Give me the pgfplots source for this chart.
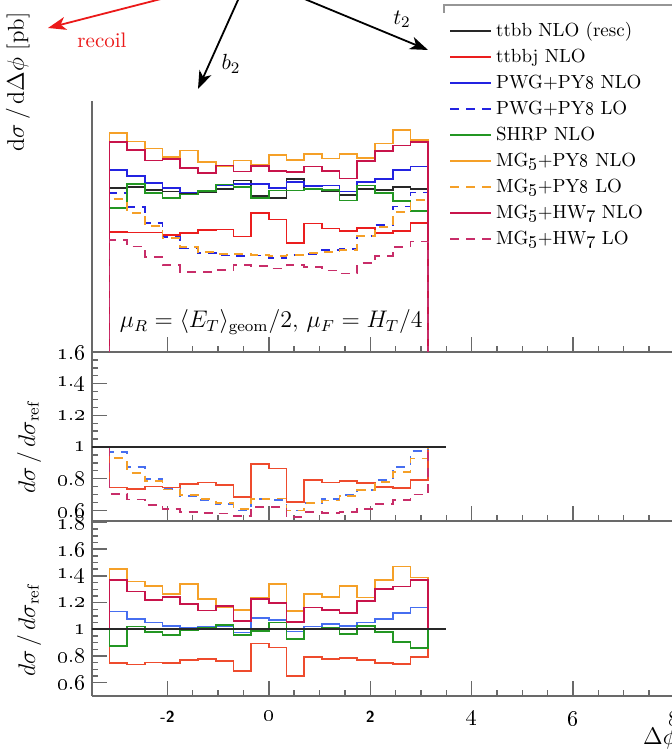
\documentclass[border=0pt]{standalone}
\usepackage{pgfplots}
\pgfplotsset{compat=1.18}
\usepackage{pgfplotstable}
\usetikzlibrary{arrows.meta}

\definecolor{ttbbc}{RGB}{40,40,40}
\definecolor{ttbbjc}{RGB}{235,30,30}
\definecolor{ttbbjr}{RGB}{238,75,45}
\definecolor{pwgc}{RGB}{35,35,225}
\definecolor{pwgr}{RGB}{70,110,240}
\definecolor{shrpc}{RGB}{35,150,35}
\definecolor{mgpyc}{RGB}{245,160,40}
\definecolor{mghwc}{RGB}{200,20,75}
\definecolor{mghwlc}{RGB}{200,45,105}
\definecolor{axisgray}{RGB}{105,105,105}
\definecolor{arrred}{RGB}{235,25,25}

\newcommand\osf[1]{\oldstylenums{#1}}

% top panel: d sigma / d Delta phi [pb]
\pgfplotstableread{
x ref red pwgn pwgl shrp mgpn mgpl mghn mghl
-3.14159 0.1 0.1 0.1 0.1 0.1 0.1 0.1 0.1 0.1
-3.14159 4.56 3.397 5.162 4.423 3.999 6.621 4.241 6.243 3.215
-2.79253 4.61 3.388 4.965 4.029 4.702 6.256 3.854 5.910 3.079
-2.44346 4.51 3.383 4.736 3.608 4.429 5.971 3.536 5.502 2.864
-2.09440 4.46 3.323 4.580 3.278 4.268 5.637 3.265 5.548 2.721
-1.74533 4.40 3.379 4.435 3.036 4.378 5.883 3.067 5.223 2.596
-1.39626 4.43 3.438 4.496 2.946 4.483 5.436 2.968 5.050 2.592
-1.04720 4.53 3.452 4.652 2.899 4.675 5.296 2.922 5.318 2.627
-0.69813 4.81 3.295 4.690 2.886 4.603 5.507 2.934 5.108 2.718
-0.34907 4.33 3.867 4.685 2.901 4.274 5.335 2.910 5.304 2.698
0.00000 4.28 3.698 4.580 2.846 4.494 5.722 2.889 5.115 2.654
0.34907 4.85 3.157 4.768 2.910 4.496 5.514 2.910 5.102 2.716
0.69813 4.55 3.595 4.641 2.935 4.550 5.742 2.948 5.287 2.685
1.04720 4.48 3.481 4.646 3.002 4.511 5.573 2.966 5.130 2.621
1.39626 4.35 3.415 4.467 3.023 4.198 5.759 3.002 4.872 2.567
1.74533 4.53 3.493 4.757 3.307 4.652 5.604 3.307 5.490 2.750
2.09440 4.51 3.369 4.857 3.563 4.429 6.174 3.509 5.863 2.886
2.44346 4.61 3.421 5.163 4.034 4.181 6.772 3.882 6.085 3.066
2.79253 4.55 3.613 5.287 4.436 3.922 6.311 4.222 6.229 3.185
3.14159 4.55 3.613 5.287 4.436 3.922 6.311 4.222 6.229 3.185
3.14159 0.1 0.1 0.1 0.1 0.1 0.1 0.1 0.1 0.1
}\toptab

% middle panel: ratios of LO curves
\pgfplotstableread{
x red pwgl mgpl mghl
-3.14159 1 1 1 1
-3.14159 0.745 0.970 0.930 0.705
-2.79253 0.735 0.874 0.836 0.668
-2.44346 0.750 0.800 0.784 0.635
-2.09440 0.745 0.735 0.732 0.610
-1.74533 0.768 0.690 0.697 0.590
-1.39626 0.776 0.665 0.670 0.585
-1.04720 0.762 0.640 0.645 0.580
-0.69813 0.685 0.600 0.610 0.565
-0.34907 0.893 0.670 0.672 0.623
0.00000 0.864 0.665 0.675 0.620
0.34907 0.651 0.600 0.600 0.560
0.69813 0.790 0.645 0.648 0.590
1.04720 0.777 0.670 0.662 0.585
1.39626 0.785 0.695 0.690 0.590
1.74533 0.771 0.730 0.730 0.607
2.09440 0.747 0.790 0.778 0.640
2.44346 0.742 0.875 0.842 0.665
2.79253 0.794 0.975 0.928 0.700
3.14159 0.794 0.975 0.928 0.700
3.14159 1 1 1 1
}\midtab

% bottom panel: ratios of NLO curves
\pgfplotstableread{
x red pwgn shrp mgpn mghn
-3.14159 1 1 1 1 1
-3.14159 0.745 1.132 0.877 1.452 1.369
-2.79253 0.735 1.077 1.020 1.357 1.282
-2.44346 0.750 1.050 0.982 1.324 1.220
-2.09440 0.745 1.027 0.957 1.264 1.244
-1.74533 0.768 1.008 0.995 1.337 1.187
-1.39626 0.776 1.015 1.012 1.227 1.140
-1.04720 0.762 1.027 1.032 1.169 1.174
-0.69813 0.685 0.975 0.957 1.145 1.062
-0.34907 0.893 1.082 0.987 1.232 1.225
0.00000 0.864 1.070 1.050 1.337 1.195
0.34907 0.651 0.983 0.927 1.137 1.052
0.69813 0.790 1.020 1.000 1.262 1.162
1.04720 0.777 1.037 1.007 1.244 1.145
1.39626 0.785 1.027 0.965 1.324 1.120
1.74533 0.771 1.050 1.027 1.237 1.212
2.09440 0.747 1.077 0.982 1.369 1.300
2.44346 0.742 1.120 0.907 1.469 1.320
2.79253 0.794 1.162 0.862 1.387 1.369
3.14159 0.794 1.162 0.862 1.387 1.369
3.14159 1 1 1 1 1
}\bottab

\pgfplotsset{
  panel/.style={
    scale only axis, width=316.55pt,
    xmin=-3.487, xmax=9,
    axis x line*=bottom, axis y line*=left,
    axis line style={-, draw=axisgray, line width=0.7pt},
    every outer x axis line/.append style={-},
    every outer y axis line/.append style={-},
    tick style={draw=axisgray, line width=0.7pt},
    tick align=inside,
    major tick length=7.5pt, minor tick length=3pt,
    xtick={-2,0,2,4,6,8}, minor x tick num=3,
    yticklabel style={font=\fontsize{11}{13}\selectfont},
    every axis y label/.style={rotate=90, anchor=center, font=\fontsize{12}{14}\selectfont},
  },
  hist/.style={const plot mark left, line width=0.85pt},
  lo/.style={dash pattern=on 4.5pt off 3.5pt},
}

\begin{document}
\begin{tikzpicture}
\useasboundingbox (0,0) rectangle (335.5pt,374.5pt);

% ---------- top panel ----------
\begin{axis}[panel,
  at={(46pt,198.5pt)}, anchor=south west, height=125.5pt,
  ymode=log, ymin=1.512, ymax=8.22,
  ytick=\empty, minor ytick={2,3,4,5,6,7,8}, yminorticks=true,
  xticklabels={},
  ylabel={$\mathrm{d}\sigma\,/\,\mathrm{d}\Delta\phi$ [pb]},
  every axis y label/.style={rotate=90, anchor=center, font=\fontsize{11.5}{14}\selectfont,
     at={(axis description cs:-0.117,1.076)}},
  legend image code/.code={\draw[#1] (0pt,0pt) -- (20.5pt,0pt);},
  legend cell align=left,
  legend style={at={(axis description cs:0.564,1.331)}, anchor=north west,
     draw=none, fill=none, inner sep=0pt, row sep=0pt,
     font=\fontsize{9.5}{11}\selectfont,
     nodes={inner ysep=1.5pt, text height=7.5pt, text depth=2.5pt}},
]
\addplot[hist, ttbbc] table[x=x,y=ref]{\toptab};
\addplot[hist, ttbbjc] table[x=x,y=red]{\toptab};
\addplot[hist, pwgc] table[x=x,y=pwgn]{\toptab};
\addplot[hist, lo, pwgc] table[x=x,y=pwgl]{\toptab};
\addplot[hist, shrpc] table[x=x,y=shrp]{\toptab};
\addplot[hist, mgpyc] table[x=x,y=mgpn]{\toptab};
\addplot[hist, lo, mgpyc] table[x=x,y=mgpl]{\toptab};
\addplot[hist, mghwc] table[x=x,y=mghn]{\toptab};
\addplot[hist, lo, mghwlc] table[x=x,y=mghl]{\toptab};
\legend{ttbb NLO (resc), ttbbj NLO, PWG+PY\osf{8} NLO, PWG+PY\osf{8} LO, SHRP NLO,
  MG\osf{5}+PY\osf{8} NLO, MG\osf{5}+PY\osf{8} LO, MG\osf{5}+HW\osf{7} NLO, MG\osf{5}+HW\osf{7} LO}
\node[font=\fontsize{11.5}{14}\selectfont] at (axis cs:0.05,1.853)
  {$\mu_R = \langle E_T\rangle_{\mathrm{geom}}/2,\, \mu_F = H_T/4$};
\end{axis}

% ---------- middle panel ----------
\begin{axis}[panel,
  at={(46pt,114pt)}, anchor=south west, height=84.5pt,
  ymin=0.533, ymax=1.6,
  ytick={0.6,0.8,1,1.2,1.4,1.6}, minor y tick num=3,
  yticklabels={\osf{0}.\osf{6}, \osf{0}.\osf{8}, \osf{1}, \osf{1}.\osf{2}, \osf{1}.\osf{4}, \osf{1}.\osf{6}},
  xticklabels={},
  ylabel={$d\sigma\,/\,d\sigma_{\mathrm{ref}}$},
  every axis y label/.append style={at={(axis description cs:-0.0995,0.438)}},
]
\addplot[hist, ttbbjr] table[x=x,y=red]{\midtab};
\addplot[hist, lo, pwgr] table[x=x,y=pwgl]{\midtab};
\addplot[hist, lo, mgpyc] table[x=x,y=mgpl]{\midtab};
\addplot[hist, lo, mghwlc] table[x=x,y=mghl]{\midtab};
\addplot[ttbbc, line width=1pt] coordinates {(-3.6,1) (3.495,1)};
\end{axis}

% ---------- bottom panel ----------
\begin{axis}[panel,
  at={(46pt,26.5pt)}, anchor=south west, height=87.5pt,
  ymin=0.5, ymax=1.811,
  ytick={0.6,0.8,1,1.2,1.4,1.6,1.8}, minor y tick num=3,
  yticklabels={\osf{0}.\osf{6}, \osf{0}.\osf{8}, \osf{1}, \osf{1}.\osf{2}, \osf{1}.\osf{4}, \osf{1}.\osf{6}, \osf{1}.\osf{8}},
  xticklabels={{\sffamily\bfseries\footnotesize -2}, {\osf{0}}, {\sffamily\bfseries\footnotesize 2}, \osf{4}, \osf{6}, \osf{8}},
  xticklabel style={font=\fontsize{11}{13}\selectfont, yshift=-4pt},
  ylabel={$d\sigma\,/\,d\sigma_{\mathrm{ref}}$},
  every axis y label/.append style={at={(axis description cs:-0.0995,0.377)}},
  xlabel={$\Delta\phi$},
  every axis x label/.style={at={(axis description cs:0.897,0)}, anchor=center, yshift=-21pt,
     font=\fontsize{12}{14}\selectfont},
]
\addplot[hist, ttbbjr] table[x=x,y=red]{\bottab};
\addplot[hist, pwgr] table[x=x,y=pwgn]{\bottab};
\addplot[hist, shrpc] table[x=x,y=shrp]{\bottab};
\addplot[hist, mgpyc] table[x=x,y=mgpn]{\bottab};
\addplot[hist, mghwc] table[x=x,y=mghn]{\bottab};
\addplot[ttbbc, line width=1pt] coordinates {(-3.6,1) (3.495,1)};
\end{axis}

% ---------- sketch above the plot ----------
\draw[arrred, line width=0.9pt, -{Stealth[length=9pt,width=6.5pt,inset=2.5pt]}]
  (94.85pt,378.7pt) -- (24pt,360.5pt);
\node[arrred, font=\fontsize{10.5}{12}\selectfont] at (51pt,354.5pt) {recoil};
\draw[black, line width=0.9pt, -{Stealth[length=9pt,width=6.5pt,inset=2.5pt]}]
  (121pt,378.95pt) -- (99pt,330pt);
\node[font=\fontsize{11}{13}\selectfont] at (115.5pt,342.5pt) {$b_2$};
\draw[black, line width=0.9pt, -{Stealth[length=9pt,width=6.5pt,inset=2.5pt]}]
  (141.4pt,379.5pt) -- (214pt,349.5pt);
\node[font=\fontsize{11}{13}\selectfont] at (201pt,365pt) {$t_2$};

% legend frame remnant
\draw[axisgray!70, line width=0.6pt] (222pt,368pt) -- (222pt,372pt) -- (340pt,372pt);
\end{tikzpicture}
\end{document}
